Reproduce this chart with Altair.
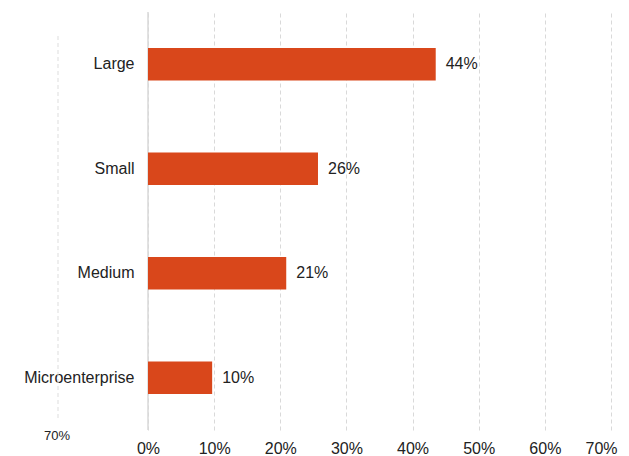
import altair as alt
import pandas as pd

categories = ["Large", "Small", "Medium", "Microenterprise"]
values = [43.5, 25.7, 20.9, 9.7]
labels = ["44%", "26%", "21%", "10%"]
tick_values = [0, 10, 20, 30, 40, 50, 60, 70]
stray_label = ["70%"]

df = pd.DataFrame({"cat": categories, "val": values, "lab": labels})

x_scale = alt.Scale(domain=[0, 70], nice=False)
y_scale = alt.Scale(domain=categories, paddingInner=0.69, paddingOuter=0.345)

base = alt.Chart(df)

bars = base.mark_bar(color="#D9471B").encode(
    x=alt.X("val:Q", scale=x_scale,
            axis=alt.Axis(values=tick_values, labelExpr="datum.value + '%'", title=None,
                          domain=False, ticks=False, grid=True, gridColor="#d9d9d9",
                          gridDash=[4, 3], labelFontSize=16, labelColor="#222222",
                          labelPadding=10, labelFont="Liberation Sans",
                          labelOffset={"condition": {"test": "datum.value == 70", "value": -10},
                                       "value": 0})),
    y=alt.Y("cat:N", scale=y_scale, sort=categories,
            axis=alt.Axis(title=None, domain=False, ticks=False, labelFontSize=16,
                          labelColor="#222222", labelPadding=14, labelFont="Liberation Sans")),
)

text = base.mark_text(align="left", baseline="middle", dx=10, fontSize=16,
                      font="Liberation Sans", color="#222222").encode(
    x=alt.X("val:Q", scale=x_scale),
    y=alt.Y("cat:N", scale=y_scale, sort=categories),
    text="lab:N",
)

zero = alt.Chart(pd.DataFrame({"z": [0]})).mark_rule(color="#d9d9d9", strokeWidth=1.5).encode(
    x=alt.X("z:Q", scale=x_scale),
)

stray = pd.DataFrame({"t": stray_label})
stray_rule = alt.Chart(stray).mark_rule(color="#dddddd", strokeDash=[4, 3]).encode(
    x=alt.value(-90), y=alt.value(24), y2=alt.value(408)
)
stray_text = alt.Chart(stray).mark_text(fontSize=13, font="Liberation Sans", color="#222222").encode(
    x=alt.value(-91), y=alt.value(424), text="t:N"
)

chart = alt.layer(zero, bars, text, stray_rule, stray_text).properties(
    width=463, height=418,
    padding={"left": 140, "top": 4, "right": 10, "bottom": 30},
    autosize=alt.AutoSizeParams(type="none"),
).configure_view(stroke=None).configure_axis(labelFlush=False)

chart.save("out.html", embed_options={"renderer": "svg", "actions": False})
